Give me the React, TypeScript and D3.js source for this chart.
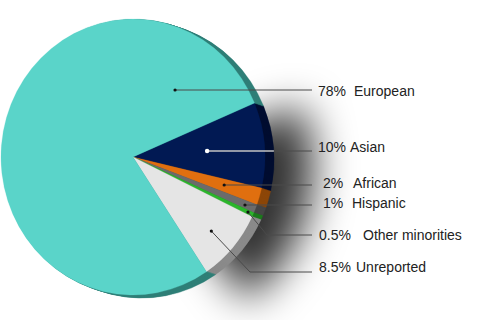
import React from 'react';
import * as d3 from 'd3';

// ---- data ----
const categories = ['Asian', 'African', 'Hispanic', 'Other minorities', 'Unreported', 'European'];
const values = [10, 2, 1, 0.5, 8.5, 78];
const percentLabels = ['10%', '2%', '1%', '0.5%', '8.5%', '78%'];
const faceColors = ['#011953', '#e06f0f', '#6b6b6b', '#2bb52b', '#e5e5e5', '#5ad4c9'];
const rimColors = ['#000d30', '#8c4608', '#454545', '#1c7a1c', '#8a8a8a', '#2f7f77'];

// ---- layout ----
const W = 480, H = 320;
const CX = 133, CY = 157, RX = 132, RY = 138;
const START = (67 * Math.PI) / 180;
const DEPTH_X = 9, DEPTH_Y = 3, STEPS = 9;
const anchorT = [0.52, 0.47, 0.47, 0.45, 0.54, 0.88];
const anchorR = [0.563, 0.72, 0.914, 0.958, 0.8, 0.58];
const lineY = [151, 185, 205, 235, 272, 90];
const elbowX: (number | null)[] = [null, null, null, 267, 250, null];
const LINE_END = 312;
const pctX = [318, 323, 323, 319, 319, 318];
const nameX = [350, 353, 352, 363, 356, 354];
const baselineY = [152, 188, 208, 240, 272, 96];

export default function App() {
  const pie = d3.pie<number>().sort(null).startAngle(START).endAngle(START + 2 * Math.PI);
  const arcs = pie(values);
  const R0 = 100;
  const arcGen = d3.arc<d3.PieArcDatum<number>>().innerRadius(0).outerRadius(R0);
  const sx = RX / R0, sy = RY / R0;
  const pt = (a: number, r: number) => [CX + RX * r * Math.sin(a), CY - RY * r * Math.cos(a)];

  const shadowArc = d3.arc()({
    innerRadius: 0,
    outerRadius: 166,
    startAngle: START + 0.02,
    endAngle: arcs[4].endAngle - 0.05,
  } as any) as string;

  const steps = d3.range(STEPS, 0, -1);

  return (
    <svg width={W} height={H} style={{ position: 'fixed', left: 0, top: 0, background: '#fff' }}
      fontFamily="'Liberation Sans', Arial, sans-serif">
      <defs>
        <filter id="blur" x="-50%" y="-50%" width="200%" height="200%">
          <feGaussianBlur stdDeviation="21" />
        </filter>
      </defs>
      <rect width={W} height={H} fill="#fff" />
      <g filter="url(#blur)">
        <path d={shadowArc} transform={`translate(${CX + 14},${CY + 10})`} fill="#000" opacity={0.8} />
      </g>
      {steps.map((k) => (
        <g key={k} transform={`translate(${CX + (DEPTH_X * k) / STEPS},${CY + (DEPTH_Y * k) / STEPS}) scale(${sx},${sy})`}>
          {arcs.map((a, i) => (
            <path key={i} d={arcGen(a) as string} fill={rimColors[i]} stroke={rimColors[i]} strokeWidth={0.3} />
          ))}
        </g>
      ))}
      <g transform={`translate(${CX},${CY}) scale(${sx},${sy})`}>
        {arcs.map((a, i) => (
          <path key={i} d={arcGen(a) as string} fill={faceColors[i]} stroke={faceColors[i]} strokeWidth={0.2} />
        ))}
      </g>
      {arcs.map((a, i) => {
        const ang = a.startAngle + anchorT[i] * (a.endAngle - a.startAngle);
        const [x0, y0] = pt(ang, anchorR[i]);
        const y1 = lineY[i];
        const ex = elbowX[i];
        const white = i === 0;
        const pts: [number, number][] = ex !== null
          ? [[x0, y0], [ex, y1], [LINE_END, y1]]
          : [[x0, y1], [LINE_END, y1]];
        const d = d3.line()(pts) as string;
        let whitePart = null;
        if (white) {
          const rimX = CX + RX * Math.sqrt(1 - ((y1 - CY) / RY) ** 2) + DEPTH_X;
          whitePart = <line x1={x0} y1={y1} x2={rimX} y2={y1} stroke="#fff" strokeWidth={1.1} />;
        }
        return (
          <g key={i}>
            <path d={d} fill="none" stroke="#4a4a4a" strokeWidth={1} />
            {whitePart}
            <circle cx={x0} cy={ex !== null ? y0 : y1} r={white ? 2.2 : 1.6} fill={white ? '#fff' : '#111'} />
            <text x={pctX[i]} y={baselineY[i]} fontSize={14} fill="#222">{percentLabels[i]}</text>
            <text x={nameX[i]} y={baselineY[i]} fontSize={14} fill="#222">{categories[i]}</text>
          </g>
        );
      })}
    </svg>
  );
}
